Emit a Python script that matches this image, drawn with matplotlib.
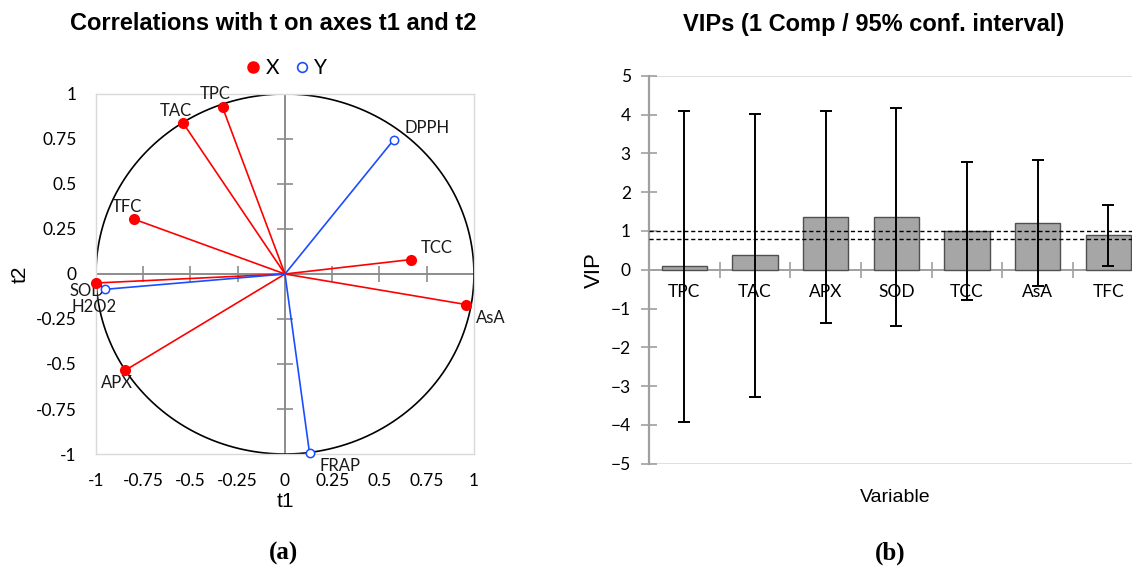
import numpy as np
import matplotlib.pyplot as plt
from matplotlib.lines import Line2D

# correlation circle: loadings on t1 / t2
x_vars = ["TPC", "TAC", "TFC", "TCC", "AsA", "SOD", "APX"]
x_t1 = [-0.33, -0.54, -0.80, 0.665, 0.96, -1.00, -0.845]
x_t2 = [0.925, 0.84, 0.305, 0.08, -0.17, -0.05, -0.535]

y_vars = ["DPPH", "H2O2", "FRAP"]
y_t1 = [0.575, -0.95, 0.13]
y_t2 = [0.745, -0.085, -0.995]

# label offsets (pixels) and alignment for each variable
lab_pos = {
    "TPC": (-7, 13, "center"), "TAC": (-7, 12, "center"), "TFC": (-7, 12, "center"),
    "TCC": (10, 12, "left"), "AsA": (10, -13, "left"), "SOD": (8, -8, "right"),
    "APX": (-8, -13, "center"), "DPPH": (11, 12, "left"), "H2O2": (-11, -18, "center"),
    "FRAP": (10, -13, "left"),
}

# VIPs with 95% confidence half-width
vip_vars = ["TPC", "TAC", "APX", "SOD", "TCC", "AsA", "TFC"]
vip = [0.085, 0.37, 1.355, 1.35, 1.0, 1.2, 0.885]
vip_ci = [4.0, 3.64, 2.74, 2.81, 1.775, 1.63, 0.785]
vip_thresholds = [1.0, 0.8]

RED = "#ff0000"
BLUE = "#1a4dff"
TICKFONT = "Lato"
ticks = [-1, -0.75, -0.5, -0.25, 0, 0.25, 0.5, 0.75, 1]
tick_lbls = ["-1", "-0.75", "-0.5", "-0.25", "0", "0.25", "0.5", "0.75", "1"]

fig = plt.figure(figsize=(11.32, 5.71), dpi=100)

# ---- (a) correlation circle ----
ax = fig.add_axes([0.0848, 0.2049, 0.3339, 0.6305])
ax.set_xlim(-1, 1)
ax.set_ylim(-1, 1)
for s in ax.spines.values():
    s.set_color("#d9d9d9")
    s.set_linewidth(1)
ax.axhline(0, color="#8c8c8c", lw=1.4, zorder=1)
ax.axvline(0, color="#8c8c8c", lw=1.4, zorder=1)
tk = [t for t in ticks if t != 0 and abs(t) != 1]
ax.plot(tk, np.zeros(len(tk)), ls="none", marker="|", ms=11, mew=1.2, color="#8c8c8c", zorder=1)
ax.plot(np.zeros(len(tk)), tk, ls="none", marker="_", ms=11, mew=1.2, color="#8c8c8c", zorder=1)

th = np.linspace(0, 2 * np.pi, 400)
ax.plot(np.cos(th), np.sin(th), color="black", lw=1.2, zorder=2)

for name, a, b in zip(x_vars, x_t1, x_t2):
    ax.plot([0, a], [0, b], color=RED, lw=1.2, zorder=3)
for name, a, b in zip(y_vars, y_t1, y_t2):
    ax.plot([0, a], [0, b], color=BLUE, lw=1.2, zorder=3)
ax.plot(x_t1, x_t2, ls="none", marker="o", ms=7, color=RED, zorder=4, clip_on=False)
ax.plot(y_t1, y_t2, ls="none", marker="o", ms=6, mfc="white", mec=BLUE, mew=1.1,
        zorder=4, clip_on=False)

for name, a, b in list(zip(x_vars, x_t1, x_t2)) + list(zip(y_vars, y_t1, y_t2)):
    dx, dy, ha = lab_pos[name]
    ax.annotate(name, (a, b), xytext=(dx, dy), textcoords="offset pixels",
                ha=ha, va="center", fontsize=12, family=TICKFONT, color="#1a1a1a")

ax.set_xticks(ticks)
ax.set_xticklabels(tick_lbls)
ax.set_yticks(ticks)
ax.set_yticklabels(tick_lbls)
ax.tick_params(length=0, labelsize=12.5, pad=14)
for lb in ax.get_xticklabels() + ax.get_yticklabels():
    lb.set_family(TICKFONT)
ax.set_xlabel("t1", fontsize=15, family="Liberation Sans", labelpad=2)
ax.set_ylabel("t2", fontsize=15, family="Liberation Sans", labelpad=4)

handles = [
    Line2D([], [], ls="none", marker="o", ms=8, color=RED),
    Line2D([], [], ls="none", marker="o", ms=7, mfc="white", mec=BLUE, mew=1.2),
]
fig.legend(handles, ["X", "Y"], loc="center", bbox_to_anchor=(284 / 1132, 1 - 68 / 571),
           ncol=2, frameon=False, handletextpad=0.0, columnspacing=0.5, handlelength=1.2,
           prop={"family": TICKFONT, "size": 15})

fig.text(273 / 1132, 1 - 24 / 571, "Correlations with t on axes t1 and t2",
         ha="center", va="center", fontsize=17, fontweight="bold", family="Liberation Sans")

# ---- (b) VIP bars ----
bx = fig.add_axes([0.5733, 0.1879, 0.4369, 0.6795])
pos = np.arange(len(vip_vars))
bx.bar(pos, vip, width=0.64, color="#a6a6a6", edgecolor="#505050", lw=1, zorder=2)
bx.errorbar(pos, vip, yerr=vip_ci, fmt="none", ecolor="black", elinewidth=1.4,
            capsize=4.5, capthick=1.4, zorder=4)
for t in vip_thresholds:
    bx.axhline(t, color="black", lw=1, ls=(0, (3, 2)), zorder=3)
bx.axhline(5, color="#d9d9d9", lw=1.2, zorder=0)
bx.axhline(-5, color="#d9d9d9", lw=1.2, zorder=0)

bx.set_xlim(-0.5, len(vip_vars) - 0.5)
bx.set_ylim(-5, 5)
bx.set_yticks(range(-5, 6))
for side in ("top", "right"):
    bx.spines[side].set_visible(False)
bx.spines["bottom"].set_position(("data", 0))
bx.spines["bottom"].set_color("#a0a0a0")
bx.spines["bottom"].set_linewidth(1.4)
bx.spines["left"].set_color("#a0a0a0")
bx.spines["left"].set_linewidth(1.6)
bx.spines["bottom"].set_zorder(1)

bx.set_xticks(pos)
bx.set_xticklabels(vip_vars)
bx.set_xticks(pos[:-1] + 0.5, minor=True)
bx.tick_params(axis="x", which="major", length=0, pad=10, labelsize=12.5)
bx.tick_params(axis="x", which="minor", direction="inout", length=12, width=1.2, color="#a0a0a0")
bx.tick_params(axis="y", direction="inout", length=12, width=1.2, color="#a0a0a0",
               pad=7, labelsize=12.5)
for lb in bx.get_xticklabels() + bx.get_yticklabels():
    lb.set_family(TICKFONT)
bx.set_ylabel("VIP", fontsize=16, family="Liberation Sans", labelpad=4)
bx.text(0.497, -0.086, "Variable", transform=bx.transAxes, ha="center", va="center",
        fontsize=14, family="Liberation Sans")

fig.text(874 / 1132, 1 - 24 / 571, "VIPs (1 Comp / 95% conf. interval)",
         ha="center", va="center", fontsize=17, fontweight="bold", family="Liberation Sans")

# panel tags
fig.text(283 / 1132, 1 - 553 / 571, "(a)", ha="center", va="center", fontsize=18,
         fontweight="bold", family="Liberation Serif")
fig.text(890 / 1132, 1 - 553 / 571, "(b)", ha="center", va="center", fontsize=18,
         fontweight="bold", family="Liberation Serif")

fig.savefig("out.png", dpi=100)
